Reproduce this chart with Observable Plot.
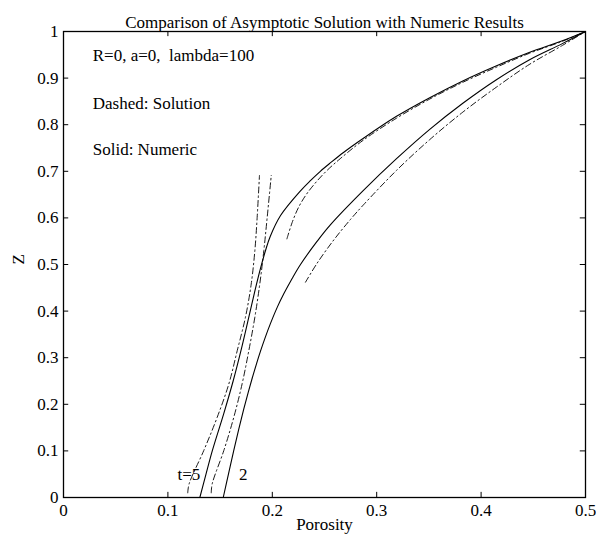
<!DOCTYPE html>
<html>
<head>
<meta charset="utf-8">
<script src="https://cdn.jsdelivr.net/npm/d3@7"></script>
<script src="https://cdn.jsdelivr.net/npm/@observablehq/plot@0.6"></script>
<style>
  html, body { margin: 0; padding: 0; background: #fff; }
</style>
</head>
<body>
<div id="chart"></div>
<script>
const chartTitle = "Comparison of Asymptotic Solution with Numeric Results";
const xLabel = "Porosity";
const yLabel = "Z";
const porosityTicks = [0, 0.1, 0.2, 0.3, 0.4, 0.5];
const zTicks = [0, 0.1, 0.2, 0.3, 0.4, 0.5, 0.6, 0.7, 0.8, 0.9, 1];

// Numeric (solid) curves: [porosity, Z]
const numericT5 = [
  [0.1306, 0], [0.1365, 0.05], [0.1425, 0.1], [0.1535, 0.18], [0.1625, 0.25],
  [0.1705, 0.32], [0.1775, 0.387], [0.1835, 0.445], [0.1885, 0.49], [0.1935, 0.53],
  [0.198, 0.56], [0.2079, 0.605], [0.227, 0.658], [0.237, 0.681], [0.246, 0.700],
  [0.2556, 0.718], [0.2685, 0.741], [0.2873, 0.771], [0.319, 0.818], [0.3508, 0.858],
  [0.3825, 0.894], [0.4143, 0.926], [0.446, 0.955], [0.4778, 0.980], [0.5, 1]
];
const numericT2 = [
  [0.153, 0], [0.158, 0.05], [0.163, 0.1], [0.168, 0.148], [0.1727, 0.19],
  [0.177, 0.226], [0.181, 0.258], [0.185, 0.288], [0.1887, 0.314], [0.193, 0.342],
  [0.198, 0.372], [0.2047, 0.408], [0.211, 0.437], [0.219, 0.47], [0.227, 0.50],
  [0.243, 0.55], [0.2556, 0.585], [0.2873, 0.659], [0.319, 0.727], [0.3508, 0.790],
  [0.3825, 0.846], [0.4143, 0.896], [0.446, 0.939], [0.4778, 0.974], [0.5, 1]
];

// Asymptotic (dash-dot) solutions
const innerT5 = [
  [0.119, 0.01], [0.1203, 0.029], [0.1344, 0.101], [0.1472, 0.172], [0.1584, 0.244],
  [0.1664, 0.315], [0.1743, 0.387], [0.1798, 0.458], [0.1833, 0.53], [0.1855, 0.601], [0.1877, 0.691]
];
const innerT2 = [
  [0.1415, 0.01], [0.1424, 0.029], [0.1536, 0.101], [0.1631, 0.172], [0.1711, 0.244],
  [0.1775, 0.315], [0.1833, 0.387], [0.188, 0.458], [0.1919, 0.53], [0.1951, 0.601], [0.199, 0.691]
];
const outerT5 = [
  [0.214, 0.555], [0.219, 0.59], [0.225, 0.622], [0.2325, 0.65], [0.242, 0.677],
  [0.2525, 0.702], [0.265, 0.727], [0.2873, 0.767], [0.319, 0.814], [0.3508, 0.855],
  [0.3825, 0.891], [0.4143, 0.923], [0.446, 0.953], [0.4778, 0.979], [0.5, 1]
];
const outerT2 = [
  [0.2318, 0.462], [0.243, 0.503], [0.259, 0.553], [0.275, 0.597], [0.2873, 0.628],
  [0.319, 0.702], [0.3508, 0.768], [0.3825, 0.827], [0.4143, 0.880], [0.446, 0.929],
  [0.4778, 0.970], [0.5, 1]
];

const notes = [
  {x: 0.028, z: 0.948, text: "R=0, a=0,\u00a0 lambda=100"},
  {x: 0.028, z: 0.846, text: "Dashed: Solution"},
  {x: 0.028, z: 0.747, text: "Solid: Numeric"}
];
const curveLabels = [
  {x: 0.131, z: 0.05, text: "t=5", anchor: "end"},
  {x: 0.168, z: 0.05, text: "2", anchor: "start"}
];

const innerXTicks = porosityTicks.slice(1, -1);
const innerZTicks = zTicks.slice(1, -1);
const font = "'Liberation Serif', 'Times New Roman', serif";
const fs = 17;
const dashDot = "6,3,1.5,3";

const chart = Plot.plot({
  width: 596,
  height: 540,
  marginLeft: 63,
  marginRight: 11,
  marginTop: 31,
  marginBottom: 43,
  style: {fontFamily: font, fontSize: fs + "px", color: "black", background: "white"},
  x: {domain: [0, 0.5], nice: false},
  y: {domain: [0, 1], nice: false},
  marks: [
    // inward ticks on all four sides
    Plot.ruleX(innerXTicks, {x: d => d, y1: 0, y2: 0.011, stroke: "black"}),
    Plot.ruleX(innerXTicks, {x: d => d, y1: 1, y2: 0.989, stroke: "black"}),
    Plot.ruleY(innerZTicks, {y: d => d, x1: 0, x2: 0.005, stroke: "black"}),
    Plot.ruleY(innerZTicks, {y: d => d, x1: 0.5, x2: 0.495, stroke: "black"}),
    Plot.axisX(porosityTicks, {tickSize: 0, tickPadding: 6, tickFormat: d => String(d), label: null, fontSize: fs}),
    Plot.axisY(zTicks, {tickSize: 0, tickPadding: 5, tickFormat: d => String(d), label: null, fontSize: fs}),
    // curves
    Plot.line(numericT5, {curve: "catmull-rom", stroke: "black", strokeWidth: 1.1}),
    Plot.line(numericT2, {curve: "catmull-rom", stroke: "black", strokeWidth: 1.1}),
    Plot.line(innerT5, {curve: "catmull-rom", stroke: "black", strokeWidth: 0.9, strokeDasharray: dashDot}),
    Plot.line(innerT2, {curve: "catmull-rom", stroke: "black", strokeWidth: 0.9, strokeDasharray: dashDot}),
    Plot.line(outerT5, {curve: "catmull-rom", stroke: "black", strokeWidth: 0.9, strokeDasharray: dashDot}),
    Plot.line(outerT2, {curve: "catmull-rom", stroke: "black", strokeWidth: 0.9, strokeDasharray: dashDot}),
    // annotations
    Plot.text(notes, {x: "x", y: "z", text: "text", textAnchor: "start", fontSize: fs, fill: "black"}),
    Plot.text(curveLabels.filter(d => d.anchor === "end"), {x: "x", y: "z", text: "text", textAnchor: "end", fontSize: fs, fill: "black"}),
    Plot.text(curveLabels.filter(d => d.anchor === "start"), {x: "x", y: "z", text: "text", textAnchor: "start", fontSize: fs, fill: "black"}),
    // title and axis labels
    Plot.text([chartTitle], {frameAnchor: "top", dy: -16, fontSize: fs, fill: "black"}),
    Plot.text([xLabel], {frameAnchor: "bottom", dy: 32, fontSize: fs, fill: "black"}),
    Plot.text([yLabel], {frameAnchor: "left", dx: -45, rotate: -90, fontSize: fs, fill: "black"}),
    Plot.frame({stroke: "black", strokeWidth: 1.3})
  ]
});
document.getElementById("chart").appendChild(chart);
</script>
</body>
</html>
